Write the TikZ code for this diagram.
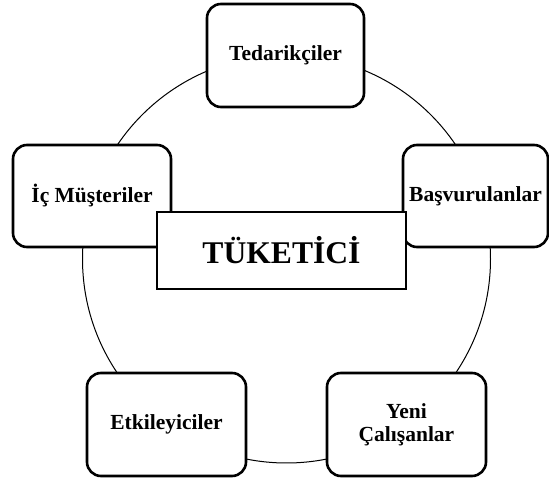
\documentclass[tikz,border=0pt]{standalone}
\usepackage{fontspec}
\setmainfont{Liberation Serif}
\begin{document}
\begin{tikzpicture}[x=1pt,y=1pt,
  party/.style={draw,line width=2.6pt,rounded corners=14pt,fill=white,
    inner sep=0pt,align=center,font=\bfseries\fontsize{21.5}{23}\selectfont},
  core/.style={draw,line width=2.4pt,fill=white,inner sep=0pt,
    font=\bfseries\fontsize{31.6}{34}\selectfont},
  ring/.style={line width=1pt}]
\useasboundingbox (0,0) rectangle (549,482);
% ring linking the groups
\coordinate (hub) at (286.5,223);
\draw[ring] (hub) circle[radius=204];
% customer groups around the ring
\node[party,minimum width=157pt,minimum height=103pt] (ted) at (285.5,426.5) {Tedarikçiler};
\node[party,minimum width=158pt,minimum height=102pt] (ic) at (92,286) {İç Müşteriler};
\node[party,minimum width=145pt,minimum height=102pt] (bas) at (475.5,286) {Başvurulanlar};
\node[party,minimum width=159pt,minimum height=103pt] (etk) at (166.5,57.5) {Etkileyiciler};
\node[party,minimum width=159pt,minimum height=103pt] (yeni) at (406.5,57.5) {Yeni\\Çalışanlar};
% central box
\node[core,minimum width=249pt,minimum height=77pt] (tuk) at (281.5,231.5) {TÜKETİCİ};
\end{tikzpicture}
\end{document}
